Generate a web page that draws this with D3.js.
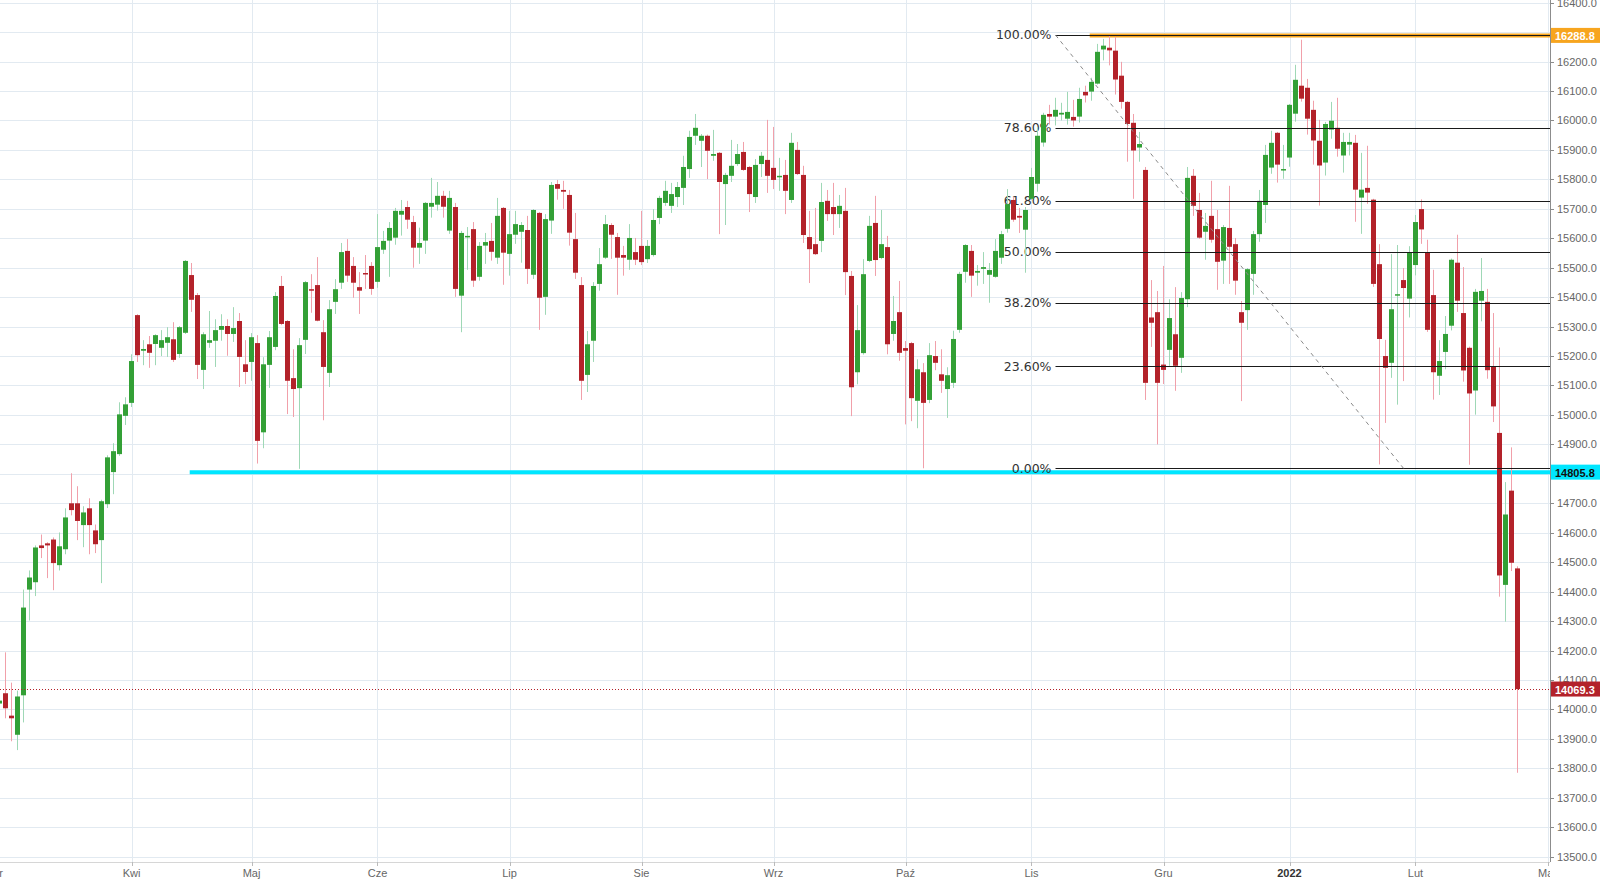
<!DOCTYPE html>
<html><head><meta charset="utf-8">
<script src="https://cdn.jsdelivr.net/npm/d3@7/dist/d3.min.js"></script>
<style>html,body{margin:0;padding:0;background:#fff;overflow:hidden}</style>
</head><body><svg id="chart" width="1600" height="880"></svg>
<script>
// ---- DATA (daily candles, index 0 = first visible session) ----
const opens=[14020,14055,13979,13914,14048,14407,14432,14557,14564,14577,14490,14544,14700,14700,14626,14683,14608,14575,14697,14806,14867,14997,15041,15339,15218,15240,15241,15228,15245,15257,15207,15279,15475,15407,15153,15245,15252,15289,15302,15275,15319,15172,15180,15244,14941,15170,15231,15438,15319,15125,15091,15255,15427,15441,15281,15143,15384,15449,15557,15506,15434,15482,15506,15452,15561,15592,15602,15680,15706,15655,15568,15592,15707,15714,15744,15626,15706,15405,15605,15631,15469,15575,15591,15534,15703,15547,15612,15622,15628,15476,15686,15401,15660,15784,15764,15747,15597,15441,15136,15252,15445,15534,15645,15604,15543,15527,15553,15574,15529,15543,15669,15720,15710,15740,15771,15835,15948,15931,15948,15880,15890,15784,15812,15852,15893,15842,15740,15852,15866,15839,15808,15815,15730,15900,15815,15604,15580,15591,15727,15706,15682,15693,15472,15145,15210,15523,15652,15533,15570,15275,15349,15227,15244,15048,15145,15051,15200,15138,15088,15109,15289,15486,15557,15483,15496,15476,15469,15534,15632,15730,15676,15629,15734,15785,15925,16022,16013,16020,16006,16012,16013,16097,16098,16125,16241,16247,16237,16152,16063,15992,15908,15832,15331,15349,15171,15221,15274,15194,15393,15812,15696,15622,15676,15631,15524,15635,15580,15349,15356,15479,15614,15713,15840,15958,15830,15874,16023,16118,16111,16036,15931,15857,15969,15975,15881,15918,15924,15738,15771,15731,15512,15200,15177,15406,15458,15395,15509,15699,15550,15407,15133,15214,15303,15517,15346,15228,15083,15388,15384,15163,14939,14423,14743,14479];
const highs=[14064,14194,14091,14064,14407,14472,14557,14594,14568,14584,14601,14683,14802,14758,14690,14717,14628,14712,14863,14904,15043,15060,15206,15342,15254,15268,15274,15288,15298,15315,15302,15526,15516,15414,15281,15353,15325,15342,15325,15366,15346,15254,15278,15271,15196,15285,15417,15472,15322,15223,15261,15455,15478,15536,15322,15390,15461,15584,15597,15536,15485,15543,15519,15682,15625,15655,15703,15730,15727,15676,15636,15723,15805,15791,15761,15761,15720,15625,15638,15655,15587,15618,15652,15737,15706,15693,15693,15655,15676,15699,15689,15682,15791,15798,15795,15764,15686,15468,15285,15451,15567,15679,15651,15618,15574,15648,15601,15693,15594,15699,15744,15795,15788,15791,15880,15965,16022,15954,15952,15968,15893,15822,15934,15920,15927,15845,15869,15893,16002,15978,15873,15866,15958,15927,15846,15693,15703,15788,15764,15788,15747,15771,15489,15373,15529,15676,15744,15696,15608,15404,15455,15251,15248,15189,15176,15244,15251,15223,15162,15286,15486,15580,15577,15509,15553,15516,15597,15625,15767,15740,15703,15706,15839,15978,16026,16053,16077,16060,16097,16070,16111,16118,16145,16260,16277,16290,16284,16199,16066,16022,15961,15842,15458,15421,15506,15393,15434,15417,15842,15835,15754,15686,15795,15696,15645,15778,15601,15387,15499,15625,15764,15917,15965,15961,15917,16056,16189,16274,16141,16067,16002,15995,16063,16077,15958,15958,15951,15890,15914,15734,15580,15255,15546,15577,15499,15573,15679,15732,15595,15493,15254,15336,15531,15612,15502,15232,15428,15533,15428,15346,15229,14772,14890,14486];
const lows=[14003,13970,13892,13862,13956,14302,14385,14514,14446,14405,14472,14527,14659,14575,14551,14527,14531,14429,14684,14731,14861,14966,15027,15180,15169,15160,15169,15200,15197,15180,15194,15275,15350,15122,15088,15228,15163,15252,15201,15248,15095,15105,15116,14835,14887,15092,15220,15305,15003,14993,14817,15207,15347,15318,14982,15095,15343,15428,15452,15398,15343,15428,15408,15432,15547,15469,15578,15609,15632,15500,15513,15547,15670,15694,15670,15615,15401,15281,15493,15435,15456,15513,15524,15513,15442,15473,15581,15517,15445,15462,15289,15340,15615,15731,15700,15575,15462,15051,15078,15180,15422,15530,15530,15408,15473,15493,15509,15509,15516,15538,15648,15710,15686,15706,15713,15805,15917,15842,15801,15863,15614,15645,15791,15846,15829,15689,15720,15808,15754,15767,15761,15682,15720,15815,15584,15448,15543,15553,15659,15611,15635,15407,14996,15104,15205,15519,15472,15529,15206,15252,15184,14968,14979,14955,14819,15040,15152,15075,14990,15092,15279,15449,15401,15439,15445,15381,15466,15513,15619,15656,15618,15483,15730,15758,15911,15986,15983,16000,15986,15979,15993,16061,16067,16122,16204,16187,16088,16040,15860,15734,15860,15051,15231,14900,15105,15167,15082,15143,15366,15676,15598,15527,15585,15425,15445,15445,15408,15047,15289,15408,15588,15652,15819,15789,15802,15843,15996,16064,15952,15850,15711,15813,15938,15877,15823,15881,15656,15615,15717,15435,14832,14973,15126,15035,15115,15331,15474,15581,15282,15052,15068,15155,15287,15350,15113,14831,15001,15318,15123,14976,14383,14298,14470,13785];
const closes=[14030,14004,13970,14044,14346,14448,14550,14548,14557,14497,14554,14652,14677,14640,14669,14626,14561,14707,14856,14877,15002,15036,15183,15203,15224,15211,15271,15254,15264,15187,15298,15523,15391,15170,15274,15254,15288,15302,15275,15295,15197,15146,15264,14912,15172,15264,15404,15309,15116,15088,15237,15451,15422,15320,15163,15359,15427,15553,15473,15449,15422,15479,15428,15570,15591,15635,15693,15693,15663,15568,15584,15720,15720,15744,15707,15737,15428,15618,15608,15456,15574,15587,15554,15676,15551,15614,15648,15645,15496,15696,15398,15665,15781,15768,15758,15619,15483,15116,15240,15438,15512,15648,15612,15534,15534,15601,15527,15519,15574,15662,15737,15761,15750,15774,15842,15944,15975,15948,15897,15886,15791,15815,15846,15886,15832,15750,15849,15880,15812,15798,15812,15761,15924,15818,15611,15563,15546,15723,15682,15682,15710,15485,15094,15288,15478,15642,15526,15580,15240,15319,15211,15218,15057,15155,15041,15203,15177,15116,15135,15258,15479,15577,15473,15489,15502,15492,15557,15614,15716,15663,15670,15696,15808,15948,16019,16013,16036,16026,16029,16000,16073,16085,16131,16233,16254,16238,16139,16063,15988,15898,15920,15109,15313,15109,15153,15329,15167,15397,15805,15710,15602,15642,15595,15520,15638,15571,15456,15313,15495,15614,15727,15883,15924,15850,15835,16053,16138,16074,16006,15932,15847,15988,15999,15904,15927,15927,15765,15765,15755,15445,15258,15160,15359,15410,15431,15552,15655,15630,15289,15145,15183,15275,15527,15388,15151,15073,15418,15421,15152,15029,14455,14662,14498,14069.3];

// month labels on the time axis and the bar index where each month starts
const monthLabels=["Mar","Kwi","Maj","Cze","Lip","Sie","Wrz","Paź","Lis","Gru","2022","Lut","Mar"];
const monthIndex=[-1,22,42,63,85,107,129,151,172,194,215,236,258];

// price axis tick labels
const priceTicks=[13500,13600,13700,13800,13900,14000,14100,14200,14300,14400,14500,14600,14700,14800,14900,15000,15100,15200,15300,15400,15500,15600,15700,15800,15900,16000,16100,16200,16300,16400];

// Fibonacci retracement
const fibRatios=[1,0.786,0.618,0.5,0.382,0.236,0];
const fibLabels=["100.00%","78.60%","61.80%","50.00%","38.20%","23.60%","0.00%"];
const fibHigh=16290.2, fibLow=14818.9, fibStartIdx=176, fibEndIdx=234;

// horizontal levels
const levelPrices=[14805.8,16288.8];
const levelStartIdx=[31.7,181.7];
const lastPrice=14069.3;

// ---- DRAWING ----
const PR=1550, PB=862;
const svg=d3.select("#chart");
const x=d3.scaleLinear().domain([0,258]).range([-0.5,1547.5]);
const y=d3.scaleLinear().domain([13482,16409]).range([PB,0]);
const crisp=v=>Math.round(v)+0.5;

svg.append("rect").attr("width",1600).attr("height",880).attr("fill","#fff");
const defs=svg.append("defs");
defs.append("clipPath").attr("id","plot").append("rect").attr("x",0).attr("y",0).attr("width",PR).attr("height",PB);
defs.append("clipPath").attr("id","xaxis").append("rect").attr("x",0).attr("y",PB).attr("width",PR).attr("height",880-PB);
const plot=svg.append("g").attr("clip-path","url(#plot)");

const gridColor="#e2eaf1";
plot.selectAll(".hg").data(priceTicks).join("line")
  .attr("x1",0).attr("x2",PR).attr("y1",d=>crisp(y(d))).attr("y2",d=>crisp(y(d)))
  .attr("stroke",gridColor).attr("stroke-width",1);
plot.selectAll(".vg").data(monthIndex).join("line")
  .attr("y1",0).attr("y2",PB).attr("x1",d=>crisp(x(d))).attr("x2",d=>crisp(x(d)))
  .attr("stroke",gridColor).attr("stroke-width",1);

// horizontal levels (support / resistance)
const levelColors=["#00e6ff","#f7a51f"];
const levelWidths=[4,4];
plot.selectAll(".lvl").data(levelPrices).join("line")
  .attr("x1",(d,i)=>x(levelStartIdx[i])).attr("x2",PR)
  .attr("y1",d=>y(d)).attr("y2",d=>y(d))
  .attr("stroke",(d,i)=>levelColors[i]).attr("stroke-width",(d,i)=>levelWidths[i]);

// fib labels
const fibPrice=r=>fibLow+r*(fibHigh-fibLow);
plot.selectAll(".fl").data(fibRatios).join("text")
  .attr("x",x(fibStartIdx)-4).attr("y",d=>y(fibPrice(d)))
  .attr("text-anchor","end").attr("dominant-baseline","central")
  .attr("font-family","DejaVu Sans, sans-serif").attr("font-size",12.5).attr("fill","#333")
  .text((d,i)=>fibLabels[i]);

// candles
const idx=d3.range(opens.length);
const up=i=>closes[i]>=opens[i];
plot.selectAll(".wick").data(idx).join("rect")
  .attr("x",i=>x(i)-0.5).attr("width",1)
  .attr("y",i=>y(highs[i])).attr("height",i=>Math.max(1,y(lows[i])-y(highs[i])))
  .attr("fill",i=>up(i)?"#9fd8b6":"#f1a0aa");
plot.selectAll(".body").data(idx).join("rect")
  .attr("x",i=>x(i)-2.5).attr("width",5)
  .attr("y",i=>y(Math.max(opens[i],closes[i])))
  .attr("height",i=>Math.max(1.5,Math.abs(y(opens[i])-y(closes[i]))))
  .attr("fill",i=>up(i)?"#33a036":"#b3222a");

// fib lines
plot.selectAll(".fline").data(fibRatios).join("line")
  .attr("x1",x(fibStartIdx)).attr("x2",PR)
  .attr("y1",d=>crisp(y(fibPrice(d)))).attr("y2",d=>crisp(y(fibPrice(d))))
  .attr("stroke","#1a1a1a").attr("stroke-width",1);
plot.append("line")
  .attr("x1",x(fibStartIdx)).attr("y1",y(fibHigh)).attr("x2",x(fibEndIdx)).attr("y2",y(fibLow))
  .attr("stroke","#8a8a8a").attr("stroke-width",1).attr("stroke-dasharray","4,4");

// last price dotted line
plot.append("line").attr("x1",0).attr("x2",PR)
  .attr("y1",crisp(y(lastPrice))).attr("y2",crisp(y(lastPrice)))
  .attr("stroke","#b3222a").attr("stroke-width",1).attr("stroke-dasharray","1,2");

// axes
svg.append("line").attr("x1",PR+0.5).attr("x2",PR+0.5).attr("y1",0).attr("y2",PB)
  .attr("stroke","#8c8c8c");
svg.append("line").attr("x1",0).attr("x2",PR).attr("y1",PB+0.5).attr("y2",PB+0.5)
  .attr("stroke","#d6d6d6");

const boxes=[
  {p:levelPrices[1],bg:"#f7a51f",fg:"#fff"},
  {p:levelPrices[0],bg:"#00e6ff",fg:"#111"},
  {p:lastPrice,bg:"#b3222a",fg:"#fff"}
];
// tick labels hidden under a price box are not drawn
const shownTicks=priceTicks.filter(t=>boxes.every(b=>Math.abs(y(t)-y(b.p))>6));
const ya=svg.append("g");
ya.selectAll("line").data(priceTicks).join("line")
  .attr("x1",PR).attr("x2",PR+4).attr("y1",d=>crisp(y(d))).attr("y2",d=>crisp(y(d)))
  .attr("stroke","#8c8c8c");
ya.selectAll("text").data(shownTicks).join("text")
  .attr("x",PR+7).attr("y",d=>y(d)).attr("dominant-baseline","central")
  .attr("font-family","Liberation Sans, Arial, sans-serif").attr("font-size",11).attr("fill","#666")
  .text(d=>d3.format(".1f")(d));

const xa=svg.append("g").attr("clip-path","url(#xaxis)");
xa.selectAll("line").data(monthIndex).join("line")
  .attr("x1",d=>crisp(x(d))).attr("x2",d=>crisp(x(d))).attr("y1",PB).attr("y2",PB+4)
  .attr("stroke","#bbb");
xa.selectAll("text").data(monthLabels).join("text")
  .attr("x",(d,i)=>x(monthIndex[i])).attr("y",PB+11).attr("text-anchor","middle")
  .attr("dominant-baseline","central")
  .attr("font-family","Liberation Sans, Arial, sans-serif").attr("font-size",11)
  .attr("font-weight",d=>d==="2022"?"bold":"normal")
  .attr("fill",d=>d==="2022"?"#333":"#666")
  .text(d=>d);

// price boxes on the axis
const bx=svg.selectAll(".box").data(boxes).join("g");
bx.append("rect").attr("x",PR+1).attr("y",d=>y(d.p)-7.5).attr("width",49).attr("height",15).attr("fill",d=>d.bg);
bx.append("text").attr("x",PR+5).attr("y",d=>y(d.p)+0.5).attr("dominant-baseline","central")
  .attr("font-family","Liberation Sans, Arial, sans-serif").attr("font-size",11).attr("font-weight","bold")
  .attr("fill",d=>d.fg).text(d=>d3.format(".1f")(d.p));
</script></body></html>
